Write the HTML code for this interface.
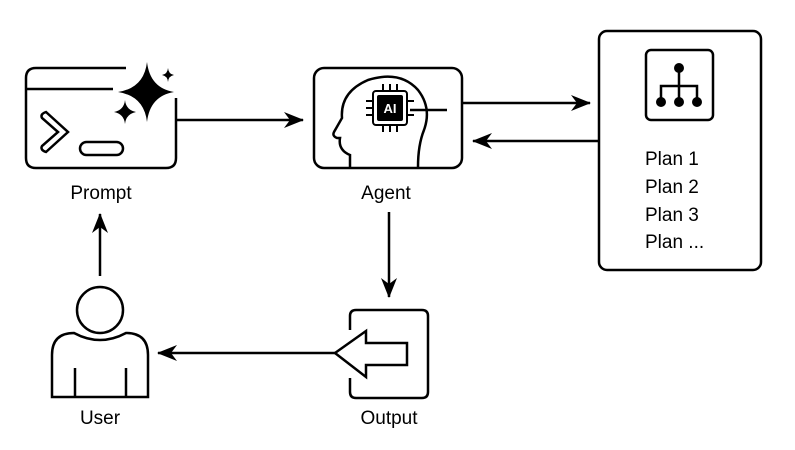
<!DOCTYPE html>
<html><head><style>
body{margin:0;background:#fff;}
svg{display:block;font-family:"Liberation Sans",Arial,sans-serif;}
</style></head><body>
<svg width="795" height="450" viewBox="0 0 795 450" xmlns="http://www.w3.org/2000/svg">
<defs>
<marker id="ah" markerWidth="20" markerHeight="16" refX="19" refY="8" orient="auto" markerUnits="userSpaceOnUse" viewBox="0 0 20 16">
<path d="M0,0 L20,8 L0,16 L6,8 Z" fill="#000"/>
</marker>
</defs>
<g fill="none" stroke="#000" stroke-width="2.5">
<!-- Prompt box -->
<path d="M126,68 H36 Q26,68 26,78 V158 Q26,168 36,168 H166 Q176,168 176,158 V98"/>
<line x1="26" y1="89" x2="113" y2="89"/>
<path d="M46,112 L68,132 L46,152 Q40,150 42,146 L58,132 L42,118 Q40,114 46,112 Z"/>
<rect x="80" y="142" width="43" height="13" rx="6.5"/>
<line x1="176" y1="120" x2="303" y2="120" marker-end="url(#ah)"/>
<!-- Agent box -->
<rect x="314" y="68" width="148" height="100" rx="10"/>
<path d="M350,167 V155 Q338,150 340,138 L337,138 Q332,136 334,132 L342,118 Q340,92 368,80 Q400,70 418,90 Q432,108 424,130 Q418,145 418,167"/>
<line x1="410" y1="110" x2="447" y2="110"/>
<line x1="462" y1="103" x2="590" y2="103" marker-end="url(#ah)"/>
<line x1="598" y1="141" x2="473" y2="141" marker-end="url(#ah)"/>
<!-- plan box -->
<rect x="599" y="31" width="162" height="239" rx="8"/>
<rect x="646" y="50" width="67" height="70" rx="5"/>
<line x1="679" y1="68" x2="679" y2="86"/>
<path d="M661,102 V86 H697 V102"/>
<line x1="679" y1="86" x2="679" y2="102"/>
<line x1="389" y1="212" x2="389" y2="297" marker-end="url(#ah)"/>
<!-- Output box -->
<path d="M350,330 V316 Q350,310 356,310 H422 Q428,310 428,316 V392 Q428,398 422,398 H356 Q350,398 350,392 V378"/>
<path d="M335,353 L366,331 V343 H407 V365 H366 V377 Z"/>
<line x1="335" y1="353" x2="158" y2="353" marker-end="url(#ah)"/>
<!-- User -->
<circle cx="100" cy="310" r="23"/>
<path d="M52,397 V355 Q52,333 74,333 Q100,347 126,333 Q148,333 148,355 V397 Z"/>
<line x1="75" y1="368" x2="75" y2="397"/>
<line x1="126" y1="368" x2="126" y2="397"/>
<line x1="100" y1="276" x2="100" y2="214" marker-end="url(#ah)"/>
</g>
<g fill="#000">
<path d="M147,62 Q150,88 174,92 Q150,96 147,122 Q144,96 118,92 Q144,88 147,62 Z"/>
<path d="M125,100 Q126,110 136,112 Q126,114 125,124 Q124,114 114,112 Q124,110 125,100 Z"/>
<path d="M168,68 Q168.5,74 174,75 Q168.5,76 168,82 Q167.5,76 162,75 Q167.5,74 168,68 Z"/>
<circle cx="679" cy="68" r="5"/>
<circle cx="661" cy="102" r="5"/>
<circle cx="679" cy="102" r="5"/>
<circle cx="697" cy="102" r="5"/>
</g>
<g stroke="#000" stroke-width="2" fill="none">
<rect x="373" y="91" width="34" height="34" rx="3" fill="#fff"/>
<line x1="383" y1="84" x2="383" y2="91"/><line x1="390" y1="84" x2="390" y2="91"/><line x1="397" y1="84" x2="397" y2="91"/>
<line x1="383" y1="125" x2="383" y2="132"/><line x1="390" y1="125" x2="390" y2="132"/><line x1="397" y1="125" x2="397" y2="132"/>
<line x1="366" y1="101" x2="373" y2="101"/><line x1="366" y1="108" x2="373" y2="108"/><line x1="366" y1="115" x2="373" y2="115"/>
<line x1="407" y1="101" x2="414" y2="101"/><line x1="407" y1="115" x2="414" y2="115"/>
</g>
<rect x="377" y="95" width="26" height="26" rx="2" fill="#000"/>
<text x="390" y="113" font-size="13" font-weight="bold" fill="#fff" text-anchor="middle">AI</text>
<g font-size="19" fill="#000">
<text x="101" y="199" text-anchor="middle">Prompt</text>
<text x="386" y="199" text-anchor="middle">Agent</text>
<text x="100" y="424" text-anchor="middle">User</text>
<text x="389" y="424" text-anchor="middle">Output</text>
<text x="645" y="165">Plan 1</text>
<text x="645" y="193">Plan 2</text>
<text x="645" y="221">Plan 3</text>
<text x="645" y="248">Plan ...</text>
</g>
</svg>
</body></html>
